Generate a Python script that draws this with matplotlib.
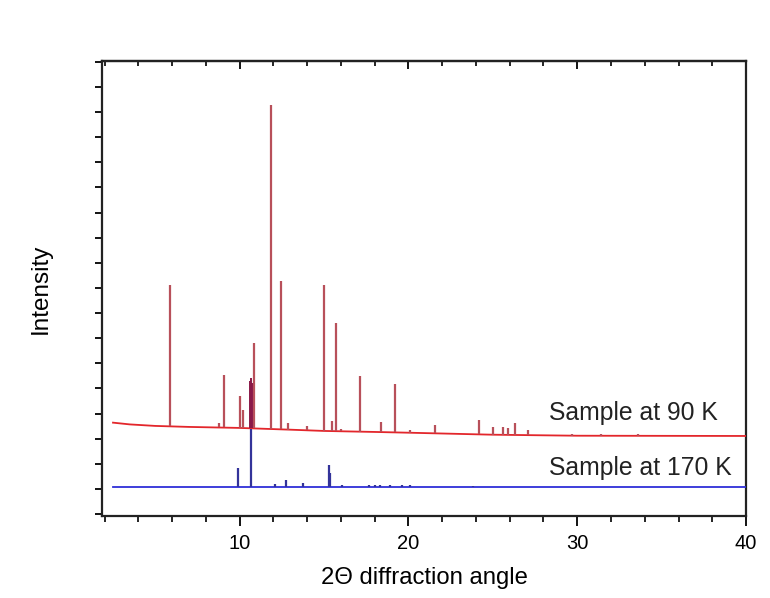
import matplotlib
matplotlib.use("Agg")
import matplotlib.pyplot as plt
from matplotlib.ticker import MultipleLocator, NullFormatter

plt.rcParams['font.family'] = ['Liberation Sans', 'DejaVu Sans']

# ---- data ----
red_base_x = [2.5, 3.5, 5.0, 7.0, 10.0, 13.0, 15.0, 18.0, 20.0, 25.0, 30.0, 40.0]
red_base_y = [2.64, 2.57, 2.51, 2.47, 2.43, 2.36, 2.31, 2.27, 2.24, 2.16, 2.12, 2.11]

red_peak_x = [5.85, 8.75, 9.09, 10.02, 10.22, 10.87, 11.86, 12.43, 12.85, 14.0,
              15.0, 15.45, 15.71, 16.0, 17.11, 18.37, 19.2, 20.09, 21.57, 24.18,
              25.0, 25.6, 25.9, 26.3, 27.1, 29.7, 31.4, 33.6]
red_peak_top = [8.12, 2.62, 4.54, 3.70, 3.14, 5.81, 15.28, 8.28, 2.63, 2.50,
                8.12, 2.70, 6.61, 2.40, 4.50, 2.67, 4.18, 2.35, 2.55, 2.75,
                2.47, 2.47, 2.43, 2.63, 2.35, 2.20, 2.19, 2.18]
red_peak_foot = [2.49, 2.45, 2.45, 2.43, 2.43, 2.41, 2.39, 2.37, 2.36, 2.33,
                 2.31, 2.30, 2.30, 2.29, 2.28, 2.26, 2.25, 2.24, 2.21, 2.17,
                 2.16, 2.15, 2.15, 2.14, 2.13, 2.12, 2.11, 2.11]

dark_peak_x = [10.62, 10.67, 10.72]
dark_peak_top = [4.30, 4.42, 4.20]

blue_base_x = [2.5, 40.0]
blue_base_y = [0.07, 0.07]
blue_peak_x = [9.92, 10.65, 12.1, 12.73, 13.78, 15.30, 15.36, 16.05,
               17.65, 18.0, 18.3, 18.9, 19.6, 20.1, 23.8]
blue_peak_top = [0.84, 2.40, 0.18, 0.36, 0.24, 0.96, 0.62, 0.14,
                 0.16, 0.16, 0.15, 0.15, 0.14, 0.14, 0.11]

labels = ["Sample at 90 K", "Sample at 170 K"]
label_x = [28.3, 28.3]
label_y = [3.02, 0.84]

xticks_major = [10, 20, 30, 40]

# ---- figure ----
fig = plt.figure(figsize=(7.70, 5.98), dpi=100)
ax = fig.add_axes([0.1325, 0.1371, 0.8364, 0.7609])

ax.plot(red_base_x, red_base_y, color='#e3262b', lw=1.3, zorder=3)
ax.vlines(red_peak_x, red_peak_foot, red_peak_top, color='#b8505a', lw=1.6, zorder=4)
ax.vlines(dark_peak_x, [2.42] * len(dark_peak_x), dark_peak_top, color='#8a1848', lw=1.4, zorder=5)

ax.plot(blue_base_x, blue_base_y, color='#2f2fd8', lw=1.3, zorder=3)
ax.vlines(blue_peak_x, [0.07] * len(blue_peak_x), blue_peak_top, color='#33339a', lw=1.6, zorder=4)

for t, x, y in zip(labels, label_x, label_y):
    ax.text(x, y, t, fontsize=17.8, color='#222222', va='center', ha='left', zorder=6)

ax.set_xlim(1.85, 40)
ax.set_ylim(-1.075, 17.03)
ax.set_xticks(xticks_major)
ax.xaxis.set_minor_locator(MultipleLocator(2))
ax.yaxis.set_major_locator(MultipleLocator(1))
ax.set_yticklabels([])

ax.tick_params(axis='x', which='major', direction='out', length=7, width=1.3,
               labelsize=14.5, top=False, pad=6)
ax.tick_params(axis='x', which='minor', direction='out', length=4, width=1.2, top=False)
ax.tick_params(axis='y', which='major', direction='out', length=5, width=1.3, right=False)

# top axis: inward ticks, no labels
top = ax.secondary_xaxis('top')
top.set_xticks(xticks_major)
top.xaxis.set_minor_locator(MultipleLocator(2))
top.xaxis.set_major_formatter(NullFormatter())
top.tick_params(axis='x', which='major', direction='in', length=6, width=1.3)
top.tick_params(axis='x', which='minor', direction='in', length=3.5, width=1.2)
top.spines['top'].set_linewidth(1.6)
top.spines['top'].set_color('#222222')

for s in ax.spines.values():
    s.set_linewidth(1.6)
    s.set_color('#222222')

ax.set_xlabel('2\u0398 diffraction angle', fontsize=17.2, labelpad=10)
ax.set_ylabel('Intensity', fontsize=17.5, labelpad=28)

fig.savefig('out.png', dpi=100)
